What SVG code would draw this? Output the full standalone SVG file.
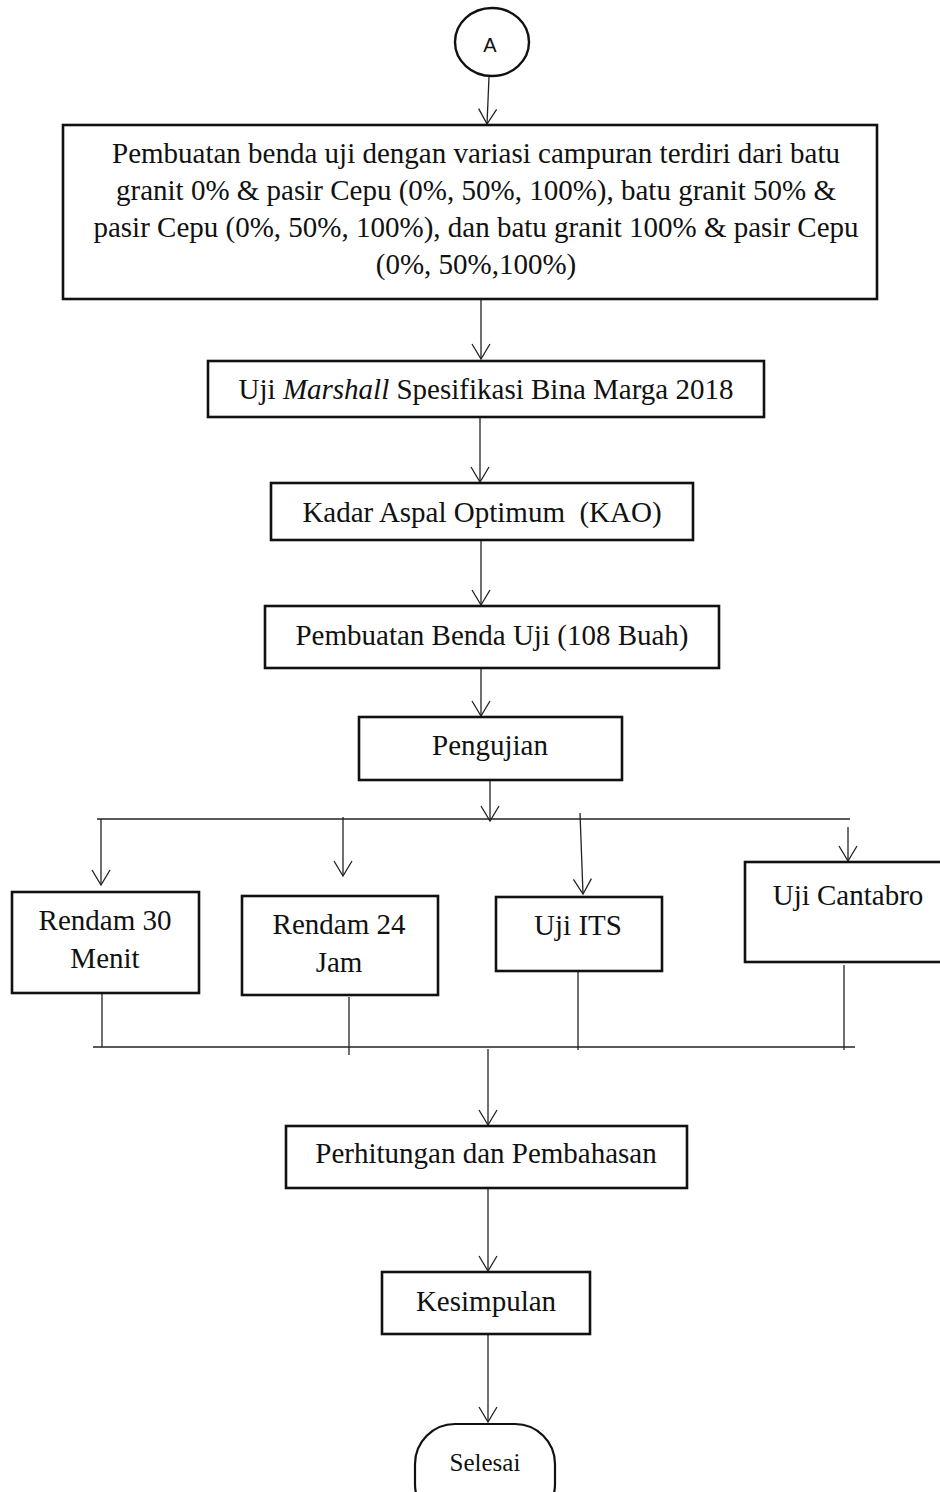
<svg xmlns="http://www.w3.org/2000/svg" width="940" height="1492" viewBox="0 0 940 1492">
<style>
.box{fill:#fff;stroke:#111;stroke-width:2.6}
.t{font-family:"Liberation Serif","Times New Roman",serif;font-size:29px;fill:#111;text-anchor:middle}
.c{fill:none;stroke:#222;stroke-width:1.3}
</style>
<defs>
<marker id="arr" markerUnits="userSpaceOnUse" markerWidth="40" markerHeight="40" viewBox="-20 -20 40 40" refX="0" refY="0" orient="auto" overflow="visible">
<path d="M -15 -9 L 0 0 L -15 9" fill="none" stroke="#222" stroke-width="1.3"/>
</marker>
</defs>
<rect width="940" height="1492" fill="#fff"/>
<g id="connectors">
<line class="c" x1="489" y1="77" x2="487" y2="124" marker-end="url(#arr)"/>
<line class="c" x1="481" y1="299" x2="481" y2="359" marker-end="url(#arr)"/>
<line class="c" x1="480" y1="417" x2="480" y2="482" marker-end="url(#arr)"/>
<line class="c" x1="481" y1="540" x2="481" y2="605" marker-end="url(#arr)"/>
<line class="c" x1="481" y1="669" x2="481" y2="716" marker-end="url(#arr)"/>
<line class="c" x1="490" y1="774" x2="490" y2="821" marker-end="url(#arr)"/>
<line class="c" x1="97" y1="819" x2="850" y2="819"/>
<line class="c" x1="101" y1="819" x2="101" y2="885" marker-end="url(#arr)"/>
<line class="c" x1="343" y1="817" x2="343" y2="876" marker-end="url(#arr)"/>
<line class="c" x1="580" y1="813" x2="583" y2="894" marker-end="url(#arr)"/>
<line class="c" x1="848" y1="827" x2="848" y2="861" marker-end="url(#arr)"/>
<line class="c" x1="102" y1="993" x2="102" y2="1047"/>
<line class="c" x1="349" y1="997" x2="349" y2="1055"/>
<line class="c" x1="578" y1="971" x2="578" y2="1050"/>
<line class="c" x1="844" y1="965" x2="844" y2="1050"/>
<line class="c" x1="93" y1="1047" x2="855" y2="1047"/>
<line class="c" x1="488" y1="1049" x2="488" y2="1125" marker-end="url(#arr)"/>
<line class="c" x1="488" y1="1189" x2="488" y2="1271" marker-end="url(#arr)"/>
<line class="c" x1="488" y1="1335" x2="488" y2="1422" marker-end="url(#arr)"/>
</g>
<g id="start">
<ellipse cx="492" cy="42" rx="37" ry="34" fill="#fff" stroke="#111" stroke-width="2.4"/>
<text x="490" y="52" style="font-family:'Liberation Sans',Arial,sans-serif;font-size:20px;fill:#111;text-anchor:middle">A</text>
</g>
<g id="mix">
<rect class="box" x="63" y="125" width="814" height="174"/>
<text class="t" x="476" y="163">Pembuatan benda uji dengan variasi campuran terdiri dari batu</text>
<text class="t" x="476" y="200">granit 0% &amp; pasir Cepu (0%, 50%, 100%), batu granit 50% &amp;</text>
<text class="t" x="476" y="237">pasir Cepu (0%, 50%, 100%), dan batu granit 100% &amp; pasir Cepu</text>
<text class="t" x="476" y="274">(0%, 50%,100%)</text>
</g>
<g id="marshall">
<rect class="box" x="208" y="361" width="556" height="56"/>
<text class="t" x="486" y="399">Uji <tspan font-style="italic">Marshall</tspan> Spesifikasi Bina Marga 2018</text>
</g>
<g id="kao">
<rect class="box" x="271" y="483" width="422" height="57"/>
<text class="t" x="482" y="522" xml:space="preserve">Kadar Aspal Optimum  (KAO)</text>
</g>
<g id="benda">
<rect class="box" x="265" y="606" width="454" height="62"/>
<text class="t" x="492" y="645">Pembuatan Benda Uji (108 Buah)</text>
</g>
<g id="pengujian">
<rect class="box" x="359" y="717" width="263" height="63"/>
<text class="t" x="490" y="755">Pengujian</text>
</g>
<g id="rendam30">
<rect class="box" x="12" y="892" width="187" height="101"/>
<text class="t" x="105" y="930">Rendam 30</text>
<text class="t" x="105" y="968">Menit</text>
</g>
<g id="rendam24">
<rect class="box" x="242" y="896" width="196" height="99"/>
<text class="t" x="339" y="934">Rendam 24</text>
<text class="t" x="339" y="972">Jam</text>
</g>
<g id="its">
<rect class="box" x="496" y="897" width="166" height="74"/>
<text class="t" x="578" y="935">Uji ITS</text>
</g>
<g id="cantabro">
<rect class="box" x="745" y="862" width="210" height="100"/>
<text class="t" x="848" y="905">Uji Cantabro</text>
</g>
<g id="perhitungan">
<rect class="box" x="286" y="1126" width="401" height="62"/>
<text class="t" x="486" y="1163">Perhitungan dan Pembahasan</text>
</g>
<g id="kesimpulan">
<rect class="box" x="382" y="1272" width="208" height="62"/>
<text class="t" x="486" y="1311">Kesimpulan</text>
</g>
<g id="selesai">
<rect x="415" y="1424" width="140" height="100" rx="40" ry="40" fill="#fff" stroke="#111" stroke-width="2.2"/>
<text x="485" y="1471" style="font-family:'Liberation Serif','Times New Roman',serif;font-size:25px;fill:#111;text-anchor:middle">Selesai</text>
</g>
</svg>
